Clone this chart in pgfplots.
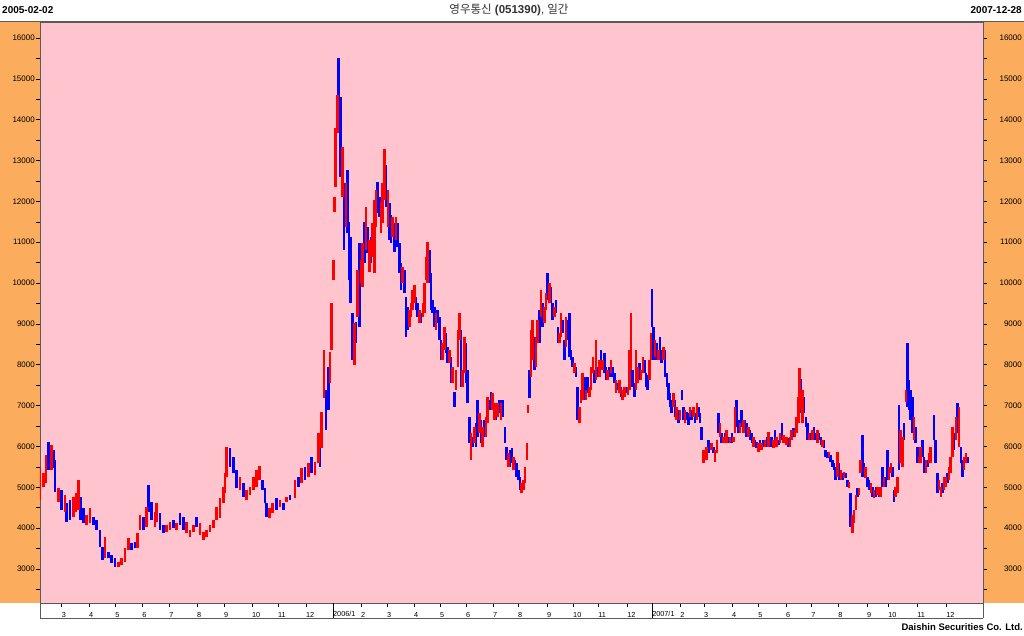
\documentclass[border=0pt]{standalone}
\usepackage{fontspec}
\setmainfont{Liberation Sans}
\newfontfamily\kr{Noto Sans CJK KR}
\usepackage{pgfplots}
\pgfplotsset{compat=1.18}
\usepackage{pgfplotstable}

\definecolor{bgpink}{RGB}{255,196,206}
\definecolor{panel}{RGB}{251,172,92}
\definecolor{upred}{RGB}{255,0,0}
\definecolor{dnblue}{RGB}{0,0,255}
\definecolor{frame}{RGB}{90,90,90}

% daily bars: trading day, low, high, c=1 up (red) / 0 down (blue)
\pgfplotstableread{
d l h c
0.0 4690 5506 1
2.6 5017 5343 1
4.6 5098 5792 1
6.5 5425 6118 0
9.0 5425 6037 1
10.3 5466 5914 0
11.6 4894 5670 0
14.2 4650 4976 1
16.8 4446 4935 0
19.4 4405 4813 1
20.6 4160 4609 0
23.2 4201 4690 0
25.8 4282 4772 1
27.9 4405 4854 1
29.7 4446 5180 1
31.5 4201 4772 0
33.5 4119 4486 0
36.1 4078 4323 1
38.7 4119 4486 1
41.3 4078 4282 0
43.9 3956 4201 0
46.5 3548 3956 0
48.5 3222 3548 0
50.3 3262 3793 1
52.9 3262 3426 0
55.5 3140 3344 0
58.1 3058 3262 0
60.6 3058 3181 1
63.2 3099 3262 1
65.8 3181 3507 1
68.4 3466 3752 1
71.0 3466 3630 0
73.5 3507 3670 0
75.4 3507 3874 1
77.4 3956 4323 1
80.0 3956 4282 0
82.6 4038 4527 1
83.9 4405 5058 0
86.5 4201 4650 0
89.0 4038 4405 1
90.3 4160 4609 1
92.9 3956 4364 0
95.5 3874 4078 0
98.1 3915 4078 1
100.6 3956 4160 1
103.2 3997 4201 0
105.8 3956 4119 1
108.4 4078 4364 0
111.0 3956 4282 0
113.5 3874 4160 1
116.1 3793 3956 1
118.7 3915 4078 1
121.3 4038 4282 0
123.9 3834 4119 1
126.5 3711 3915 1
129.0 3793 3956 1
131.6 3915 4078 1
134.2 3997 4201 1
136.8 4201 4527 1
139.4 4242 4731 1
141.9 4609 5017 1
143.2 4854 5343 1
144.5 5262 5996 1
147.1 5506 5955 0
149.7 5343 5751 0
152.3 4976 5425 0
154.8 4935 5262 1
157.4 4772 5098 0
160.0 4690 4935 1
162.6 4813 5017 1
165.2 4935 5262 1
167.7 5017 5425 1
169.8 5180 5523 1
172.4 4935 5180 0
174.2 4609 4976 0
175.5 4282 4609 0
177.5 4242 4486 1
180.1 4364 4609 1
183.2 4446 4731 0
185.8 4527 4690 1
188.4 4446 4609 0
191.0 4650 4772 1
193.5 4690 4813 0
197.4 4731 5180 1
200.0 5016 5261 0
202.6 5098 5465 1
205.2 5180 5506 0
207.7 5261 5588 1
210.3 5343 5751 0
212.9 5302 5628 1
215.5 5588 6322 1
216.8 5506 6240 0
218.1 5955 6852 1
219.9 7179 8362 1
221.4 6404 7383 0
223.2 6893 7954 0
224.5 7546 8321 1
225.8 8362 9504 1
227.1 10076 10565 1
227.9 11748 12116 1
228.9 12360 13788 1
230.2 13666 14604 1
231.2 14564 15502 0
232.8 12605 14564 0
234.3 12116 13340 1
235.3 10810 12442 0
236.9 11381 12442 1
238.2 11218 12768 0
239.2 10076 11504 0
240.5 9504 11136 0
242.1 8117 9260 0
243.3 7995 9015 1
244.6 8525 9056 0
245.9 9178 10320 1
247.2 8933 10973 0
248.5 9994 10565 1
249.8 9912 10973 1
251.1 10484 11504 0
252.4 10810 11871 1
253.7 10728 11381 0
255.0 10280 11055 1
256.3 10484 11136 0
257.5 10647 11463 1
258.8 10239 12034 1
260.1 11381 12279 1
261.4 11708 12483 0
262.7 11626 12116 0
264.0 11218 11993 1
265.3 11463 12442 1
266.6 12034 13282 1
267.9 11871 12891 0
269.2 11381 12279 1
270.4 11055 11952 0
271.7 10973 11667 0
273.0 11136 11626 1
274.3 10769 11463 0
275.6 11055 11626 1
276.9 10892 11463 0
278.2 10239 10973 0
279.5 9831 10484 0
280.8 9994 10402 1
282.1 9749 10320 0
283.3 8688 9668 0
284.6 8852 9423 0
285.9 8933 9341 1
287.2 9178 9504 1
288.5 9341 9831 1
289.8 9504 9953 1
291.1 9341 9668 0
292.4 9178 9504 0
293.7 9015 9341 1
295.0 9015 9260 0
296.3 9178 9504 1
297.5 9260 9994 1
298.8 10076 10647 1
300.1 9994 11014 1
301.4 9994 10810 0
302.7 9341 10239 0
304.0 9260 9586 0
305.3 8933 9423 0
306.6 8852 9260 1
307.9 9015 9341 0
309.2 8607 9178 0
310.4 8117 8607 0
311.7 8117 8525 1
313.0 8362 8933 1
314.3 8280 8770 0
315.6 8036 8444 0
316.9 8036 8362 1
318.2 7546 8199 0
319.5 7546 7954 1
320.8 6975 7342 0
322.1 7383 7872 1
323.4 7954 8852 1
324.6 8607 9260 1
325.9 7464 8852 0
327.2 7464 7872 1
328.5 7791 8688 1
329.8 7546 8525 0
331.1 7056 7872 0
332.4 6077 6730 0
333.7 5669 6322 1
335.0 5996 6240 0
336.3 6077 6485 1
337.5 5996 6567 0
338.8 6240 7138 0
340.1 6322 6812 1
341.4 6077 6648 0
342.7 5996 6485 1
344.0 6240 6648 0
345.3 6240 6730 1
346.6 6567 7220 1
347.9 6893 7138 0
349.2 6893 7342 0
350.4 6893 7301 1
351.7 6648 7056 1
353.0 6648 6893 0
354.3 6730 7056 1
355.6 6812 7138 0
356.9 6648 7056 1
358.2 6730 7138 0
360.0 6077 6485 0
361.3 5669 5996 0
362.6 5506 5832 1
363.9 5506 5914 0
365.2 5588 5955 0
366.4 5424 5751 1
367.7 5424 5669 0
369.0 5261 5588 0
370.3 5180 5424 0
371.6 4935 5261 0
372.9 4853 5098 1
374.2 4935 5180 1
375.5 5098 5506 1
376.8 5669 6077 1
377.8 6811 7015 1
378.9 7179 7872 0
380.1 7709 8851 1
381.4 8117 9096 1
382.7 7872 8688 0
384.0 7954 8688 1
385.3 8525 9096 1
386.6 8525 9341 0
387.9 9178 9831 1
389.1 8933 9504 0
390.4 9015 9423 1
391.7 9341 9749 1
393.0 9586 10239 0
394.3 9504 9994 1
395.6 9504 9912 0
396.9 9096 9504 0
398.2 9178 9423 1
399.5 9259 9586 0
400.8 8525 8933 0
402.1 8525 8770 1
403.3 8688 9259 1
404.6 8770 9096 0
405.9 8117 8607 0
407.2 8443 9178 1
408.5 8607 9096 0
409.8 8199 9259 0
411.1 8117 8362 0
412.4 7954 8199 0
413.7 7791 8035 1
415.0 7709 7954 0
416.2 6648 7464 0
417.5 6567 6975 1
418.8 7056 7383 1
420.1 7138 7791 1
421.4 7138 7709 0
422.7 7138 7383 1
424.0 7301 7709 0
425.3 7219 7464 1
426.6 7383 7954 1
427.9 7791 8199 1
429.2 7546 7872 0
430.4 7627 8607 1
431.7 7709 7954 0
433.0 7709 8117 1
434.3 7872 8362 0
435.6 7872 8117 1
436.9 7791 8280 0
438.2 7627 7954 0
439.5 7627 7872 1
440.8 7709 7954 0
442.1 7791 8117 1
443.3 7709 7954 0
444.6 7546 7791 0
445.9 7301 7627 1
447.2 7383 7546 0
448.5 7301 7627 1
449.8 7219 7464 0
451.1 7138 7383 1
452.4 7219 7464 1
453.7 7301 7464 0
455.0 7260 7464 1
456.2 7383 8362 1
457.5 7872 9259 1
458.8 7464 7872 0
460.1 7219 7546 0
461.4 7383 8362 1
462.7 7546 7954 1
464.0 7627 8035 0
465.3 7627 7872 1
466.6 7791 8199 1
467.9 7791 8117 0
469.1 7464 7791 0
470.4 7383 7750 0
471.7 7627 8117 1
472.8 8117 8770 1
473.8 8933 9847 0
474.8 8117 8933 0
476.1 8199 8607 1
477.4 8117 8525 0
478.7 8117 8362 1
480.0 8199 8688 0
481.3 8035 8362 0
482.6 8117 8443 1
483.9 7709 8362 0
485.2 7464 7791 0
486.4 7138 7546 0
487.7 6975 7301 0
489.0 6811 7138 0
490.3 6975 7301 1
491.6 6730 7138 0
492.9 6648 6975 1
494.2 6567 6893 0
495.5 6648 6893 1
496.8 7138 7383 0
498.1 6648 6975 0
499.3 6567 6893 1
500.6 6648 6852 0
501.9 6526 6811 0
503.2 6730 6975 1
504.5 6648 6893 0
505.8 6730 6975 1
507.1 6567 6811 0
508.4 6648 7056 1
509.7 6730 6975 0
511.0 6567 6811 0
512.2 6159 6485 0
513.5 5587 5914 1
514.8 5669 5914 0
516.1 5669 5995 1
517.4 5832 6159 0
518.7 5914 6077 0
520.0 5914 6077 1
521.3 5832 5995 0
522.6 5628 5914 1
523.9 5832 6159 1
525.2 6322 6811 0
526.4 6240 6567 1
527.7 6077 6322 0
529.0 6077 6240 1
530.3 6159 6322 0
531.6 6077 6403 1
532.9 6077 6240 0
534.2 6077 6240 1
535.5 6077 6322 0
536.8 6118 6240 1
538.1 6322 6975 1
539.3 6485 7138 0
540.6 6322 6648 0
541.9 6322 6567 1
543.2 6485 6893 0
544.5 6322 6648 1
545.8 6403 6648 0
547.1 6240 6567 0
548.4 6240 6485 1
549.7 6159 6403 0
551.0 6077 6322 0
552.2 5995 6240 1
553.5 5995 6159 0
554.8 5955 6118 0
556.1 5873 6077 1
557.4 5914 6159 0
558.7 5914 6077 1
560.0 5995 6159 0
561.3 5995 6159 1
562.6 5995 6240 0
563.9 5995 6363 1
566.4 5996 6241 0
567.7 5955 6159 1
569.0 6037 6404 0
570.3 5996 6241 1
571.6 6037 6159 0
572.9 6078 6322 1
574.2 6159 6567 0
575.5 6078 6282 1
576.8 6078 6241 0
578.0 6037 6241 1
579.3 5996 6200 0
580.6 5996 6241 1
581.9 6159 6404 1
583.2 6241 6445 0
584.5 6241 6404 1
585.8 6322 6730 1
587.1 6567 7220 1
587.9 6894 7914 1
588.9 6812 7644 0
590.2 6567 7383 1
591.5 6812 7220 0
592.8 6486 6730 0
594.0 6159 6567 0
595.3 6159 6322 1
596.6 6159 6322 0
597.9 6159 6404 1
599.2 6241 6486 0
600.5 6159 6322 0
601.8 6078 6404 1
603.1 6159 6322 0
604.4 6037 6241 0
605.7 5996 6159 1
607.0 5955 6159 0
608.2 5751 5914 0
609.5 5710 5874 0
610.8 5751 5874 1
612.1 5629 5792 0
613.4 5506 5670 0
614.7 5425 5588 0
616.0 5180 5506 0
617.3 5262 5874 1
618.6 5180 5588 0
619.9 5180 5425 1
621.1 5180 5343 0
622.4 5221 5384 1
623.7 5221 5343 0
625.0 5017 5180 0
626.3 4976 5139 1
627.6 4038 4854 0
628.9 3874 4323 1
630.2 4119 4446 1
631.5 4446 4813 1
632.8 4772 4976 0
634.0 4813 4976 1
635.3 5343 5670 1
636.6 5262 6282 0
637.9 5262 5588 0
639.2 5221 5506 1
640.5 5017 5262 0
641.8 4935 5180 0
643.1 4854 5098 1
644.4 4772 5017 0
645.7 4731 4935 1
647.0 4772 5017 0
648.2 4813 5017 1
649.5 4772 4935 0
650.8 4772 5017 1
652.1 5017 5506 0
653.4 5017 5262 1
654.7 5017 5262 0
656.0 5180 5914 0
657.3 5180 5506 1
658.6 5343 5588 1
659.9 5262 5506 0
661.1 4650 4935 0
662.4 4772 5017 1
663.7 4854 5262 1
665.0 5425 7016 0
666.3 5588 6404 1
667.6 5506 6241 1
668.9 6159 6567 0
670.2 7098 7383 1
671.5 6975 8526 0
672.8 6894 7628 0
674.0 6649 7383 0
675.3 6322 7220 0
676.6 6159 6730 1
677.9 6078 6486 0
679.2 5588 5996 0
680.5 5588 5751 1
681.8 5588 5996 1
683.1 5751 6159 0
684.4 5343 5751 0
685.7 5343 5670 1
687.0 5506 5670 0
688.3 5588 5833 1
689.5 5588 5996 1
692.1 6159 6771 0
693.4 5588 6159 0
694.7 4854 5343 0
696.0 4935 5180 1
697.3 4772 5017 1
698.6 4854 5098 0
699.9 4935 5262 1
701.1 5017 5262 1
702.4 5098 5343 0
703.7 5180 5506 1
705.0 5343 5751 1
706.3 5751 6486 1
707.6 5914 6322 0
708.9 6159 6730 1
710.2 6322 7057 0
711.5 5996 6975 1
712.8 5588 5996 0
714.1 5262 5670 0
715.4 5425 5751 1
716.7 5588 5833 1
718.0 5588 5751 0
}\bars

\begin{document}
\begin{tikzpicture}[x=1pt,y=1pt]
\path[use as bounding box] (0,0) rectangle (1024,636);
\fill[white] (0,0) rectangle (1024,636);
\fill[panel] (0,33) rectangle (40,614);
\fill[panel] (983,33) rectangle (1024,614);

\begin{axis}[
  at={(40pt,33pt)}, anchor=south west,
  width=943pt, height=581pt, scale only axis,
  xmin=0, xmax=730, ymin=2169, ymax=16391,
  axis background/.style={fill=bgpink},
  axis line style={frame, line width=0.8pt},
  tick style={black, line width=0.6pt},
  tick align=outside,
  xtick pos=left, ytick pos=left,
  major tick length=4pt, minor tick length=4pt,
  ytick={3000,4000,...,16000},
  minor ytick={2500,3500,...,15500},
  scaled y ticks=false,
  /pgf/number format/1000 sep={},
  /pgf/number format/assume math mode=true,
  yticklabel style={font=\fontsize{8}{9}\selectfont, inner sep=0pt, anchor=east, xshift=-1pt},
  xtick={16.8,37.9,58.1,79.0,99.9,121.5,142.4,164.1,184.2,205.9,
         248.5,268.6,289.5,309.6,329.8,350.7,370.0,392.5,412.6,432.0,454.5,
         495.5,514.0,535.7,555.9,577.5,596.9,617.8,640.2,656.5,679.0,701.5},
  xticklabels={3,4,5,6,7,8,9,10,11,12,2,3,4,5,6,7,8,9,10,11,12,2,3,4,5,6,7,8,9,10,11,12},
  xticklabel style={font=\fontsize{7.3}{8}\selectfont, inner sep=0pt, anchor=north west, yshift=-5pt},
  extra x ticks={226.8,473.8},
  extra x tick labels={2006/1,2007/1},
  extra x tick style={major tick length=15pt, tick style={black, line width=0.8pt},
    xticklabel style={yshift=12pt}},
]
\addplot[draw=none, mark=none, restrict expr to domain={\thisrow{c}}{0:0},
  error bars/.cd, y dir=plus, y explicit, error mark=none,
  error bar style={draw=dnblue, line width=2.5pt}]
  table[x=d, y=l, y error plus expr=\thisrow{h}-\thisrow{l}] {\bars};
\addplot[draw=none, mark=none, restrict expr to domain={\thisrow{c}}{1:1},
  error bars/.cd, y dir=plus, y explicit, error mark=none,
  error bar style={draw=upred, line width=2.5pt}]
  table[x=d, y=l, y error plus expr=\thisrow{h}-\thisrow{l}] {\bars};
\end{axis}

\begin{axis}[
  at={(40pt,33pt)}, anchor=south west,
  width=943pt, height=581pt, scale only axis,
  xmin=0, xmax=730, ymin=2169, ymax=16391,
  hide x axis, axis y line*=right,
  axis line style={frame, line width=0.8pt},
  tick style={black, line width=0.6pt},
  tick align=outside,
  major tick length=4pt, minor tick length=4pt,
  ytick={3000,4000,...,16000},
  minor ytick={2500,3500,...,15500},
  scaled y ticks=false,
  /pgf/number format/1000 sep={},
  /pgf/number format/assume math mode=true,
  yticklabel style={font=\fontsize{8}{9}\selectfont, inner sep=0pt, anchor=east, xshift=35pt},
]
\end{axis}

\draw[frame, line width=0.8pt] (40,18) -- (983,18);
\draw[frame, line width=0.8pt] (40,18) -- (40,33);
\draw[frame, line width=0.8pt] (983,18) -- (983,33);
\draw[frame, line width=1pt] (0,614) -- (1024,614);

\node[anchor=west, inner sep=0pt, font=\bfseries\fontsize{10}{11}\selectfont] at (2,626) {2005-02-02};
\node[anchor=east, inner sep=0pt, font=\bfseries\fontsize{10}{11}\selectfont] at (1022,626) {2007-12-28};
\node[inner sep=0pt, text=black!80, font=\fontsize{11.5}{12}\selectfont] at (509,626) {{\kr 영우통신}\ \textbf{(051390)},\ {\kr 일간}};
\node[anchor=east, inner sep=0pt, font=\bfseries\fontsize{9.5}{10}\selectfont] at (1023,9) {Daishin Securities Co. Ltd.};
\end{tikzpicture}
\end{document}
